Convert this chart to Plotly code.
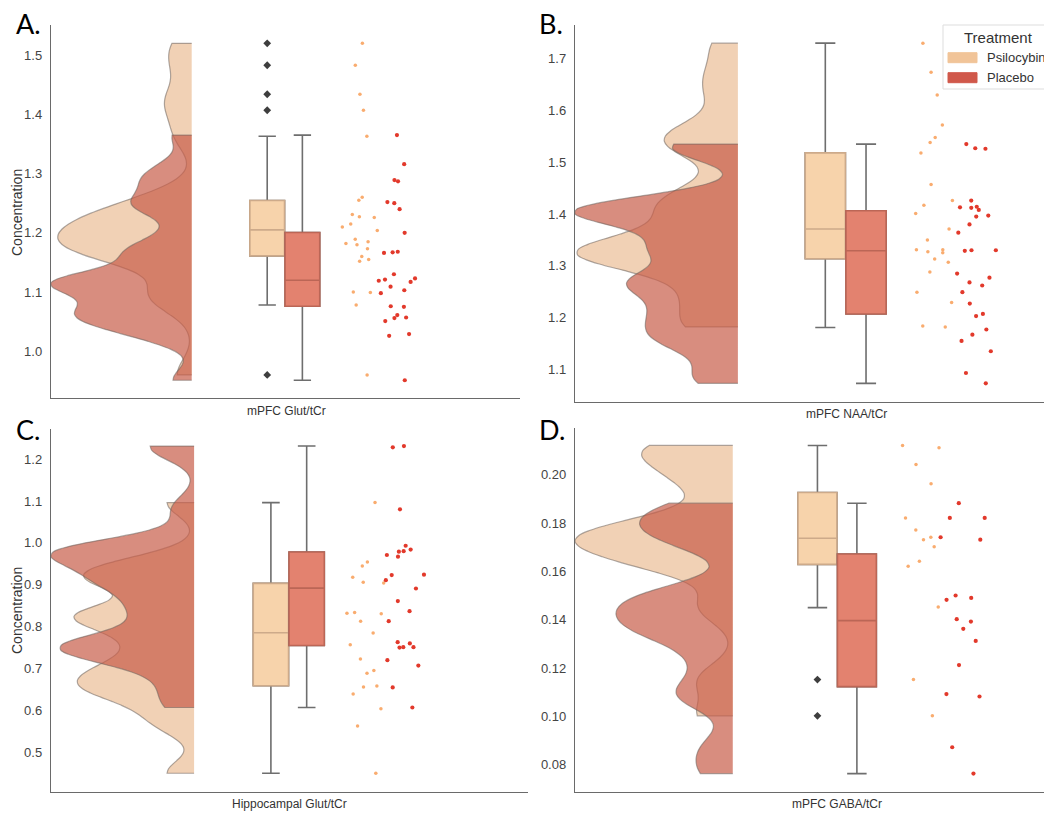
import numpy as np
import plotly.graph_objects as go

W, H = 1052, 813          # browser window
PAGE_MARGIN = 8           # default body margin of the html page
FW, FH = W - PAGE_MARGIN, H - PAGE_MARGIN

# ---------------- data ----------------
panels = ["A", "B", "C", "D"]
measures = ["mPFC Glut/tCr", "mPFC NAA/tCr", "Hippocampal Glut/tCr", "mPFC GABA/tCr"]
groups = ["Psilocybin", "Placebo"]

psil_A = [1.520, 1.483, 1.434, 1.407, 1.363, 1.260, 1.255, 1.231, 1.227, 1.226, 1.215, 1.210, 1.204,
          1.189, 1.185, 1.182, 1.180, 1.173, 1.160, 1.155, 1.152, 1.100, 1.099, 1.078, 0.960]
plac_A = [1.365, 1.316, 1.289, 1.287, 1.252, 1.250, 1.240, 1.200, 1.168, 1.167, 1.166, 1.130, 1.123,
          1.121, 1.119, 1.117, 1.109, 1.103, 1.098, 1.076, 1.075, 1.061, 1.057, 1.056, 1.051, 1.029,
          1.026, 0.951]

psil_B = [1.730, 1.674, 1.630, 1.572, 1.548, 1.538, 1.518, 1.457, 1.426, 1.417, 1.401, 1.371, 1.350,
          1.331, 1.331, 1.327, 1.325, 1.313, 1.307, 1.288, 1.249, 1.229, 1.184, 1.182]
plac_B = [1.535, 1.527, 1.526, 1.426, 1.414, 1.413, 1.412, 1.408, 1.397, 1.395, 1.380, 1.364, 1.330,
          1.330, 1.329, 1.285, 1.277, 1.268, 1.262, 1.249, 1.227, 1.207, 1.203, 1.177, 1.167, 1.155,
          1.135, 1.093, 1.073]

psil_C = [1.096, 0.954, 0.945, 0.918, 0.906, 0.904, 0.834, 0.832, 0.831, 0.813, 0.785, 0.757, 0.723,
          0.695, 0.689, 0.658, 0.656, 0.639, 0.604, 0.563, 0.450]
plac_C = [1.231, 1.228, 1.080, 0.993, 0.984, 0.980, 0.979, 0.971, 0.967, 0.924, 0.923, 0.911, 0.891,
          0.861, 0.837, 0.813, 0.763, 0.760, 0.751, 0.751, 0.750, 0.720, 0.707, 0.655, 0.607]

psil_D = [0.2122, 0.2113, 0.2043, 0.1963, 0.1822, 0.1772, 0.1742, 0.1732, 0.1703, 0.1643, 0.1622,
          0.1453, 0.1153, 0.1003]
plac_D = [0.1883, 0.1822, 0.1822, 0.1742, 0.1732, 0.1501, 0.1491, 0.1483, 0.1403, 0.1393, 0.1363,
          0.1313, 0.1213, 0.1093, 0.1083, 0.0873, 0.0764]

# box statistics: lower whisker, Q1, median, Q3, upper whisker
box_psil_A = [1.078, 1.161, 1.205, 1.2545, 1.363]
box_plac_A = [0.951, 1.076, 1.120, 1.2005, 1.365]
box_psil_B = [1.181, 1.3136, 1.371, 1.518, 1.730]
box_plac_B = [1.073, 1.2068, 1.329, 1.4063, 1.535]
box_psil_C = [0.450, 0.659, 0.7855, 0.9033, 1.096]
box_plac_C = [0.607, 0.755, 0.892, 0.978, 1.231]
box_psil_D = [0.1451, 0.163, 0.1738, 0.1927, 0.2122]
box_plac_D = [0.0764, 0.1124, 0.1397, 0.1673, 0.1883]

# relative maximum width of each half violin (psilocybin, placebo)
cloud_width_A = [0.95, 1.0]
cloud_width_B = [0.985, 1.0]
cloud_width_C = [0.84, 1.0]
cloud_width_D = [1.0, 0.74]

data = {"A": (psil_A, plac_A), "B": (psil_B, plac_B), "C": (psil_C, plac_C), "D": (psil_D, plac_D)}
boxes = {"A": (box_psil_A, box_plac_A), "B": (box_psil_B, box_plac_B),
         "C": (box_psil_C, box_plac_C), "D": (box_psil_D, box_plac_D)}
cloud_w = {"A": cloud_width_A, "B": cloud_width_B, "C": cloud_width_C, "D": cloud_width_D}

ticks = {"A": (1.0, 0.1, ".1f"), "B": (1.1, 0.1, ".1f"), "C": (0.5, 0.1, ".1f"), "D": (0.08, 0.02, ".2f")}

# ---------------- layout / style ----------------
# pixel boxes of each plot area in the window (left, right, top, bottom) and axis ranges
geom = {
    "A": dict(px=(51, 520), py=(25, 398), xr=(0, 10.0), yr=(0.921, 1.551)),
    "B": dict(px=(575, 1052), py=(25, 402), xr=(0, 8.785), yr=(1.037, 1.765)),
    "C": dict(px=(51, 528), py=(429.3, 791.7), xr=(0, 10.0), yr=(0.406, 1.271)),
    "D": dict(px=(575, 1052), py=(428.3, 791.7), xr=(0, 9.07), yr=(0.0689, 0.2193)),
}

VIOLIN_X = 3.0
BOX_X = [4.61, 5.36]
STRIP_X = [6.64, 7.40]
BOX_W = 0.74

VIOLIN_FILL = ["rgba(232,178,132,0.6)", "rgba(200,92,72,0.7)"]
VIOLIN_LINE = "rgba(110,100,95,0.55)"
BOX_FILL = ["#F7D3AB", "#E3826F"]
BOX_EDGE = ["#CDAA8A", "#BB6656"]
WHISKER = "#6E6E6E"
POINT_COL = ["#F9AC6F", "#E2392B"]
POINT_SIZE = [3.5, 4.2]
OUTLIER_COL = "#3E3E3E"
LEGEND_COL = ["#F1C498", "#D0584A"]
FONT = "Liberation Sans, Arial, sans-serif"


def fx(x):
    return (x - PAGE_MARGIN) / FW


def fy(y):
    return 1 - (y - PAGE_MARGIN) / FH


fig = go.Figure()
layout = dict(width=FW, height=FH, margin=dict(l=0, r=0, t=0, b=0), paper_bgcolor="white",
              plot_bgcolor="white", showlegend=False, font=dict(family=FONT, color="#333"))
annotations = []
shapes = []

for i, p in enumerate(panels):
    g = geom[p]
    sfx = "" if i == 0 else str(i + 1)
    xa, ya = "x" + sfx, "y" + sfx
    layout["xaxis" + sfx] = dict(domain=[fx(g["px"][0]), min(1.0, fx(g["px"][1]))], range=list(g["xr"]),
                                 showline=True, linecolor="#6a6a6a", linewidth=1.4, showgrid=False,
                                 zeroline=False, showticklabels=False, ticks="", anchor=ya,
                                 fixedrange=True)
    t0, dt, fmt = ticks[p]
    layout["yaxis" + sfx] = dict(domain=[fy(g["py"][1]), fy(g["py"][0])], range=list(g["yr"]),
                                 showline=True, linecolor="#6a6a6a", linewidth=1.4, showgrid=False,
                                 zeroline=False, tick0=t0, dtick=dt, tickformat=fmt,
                                 ticks="outside", ticklen=5, tickcolor="rgba(0,0,0,0)",
                                 tickfont=dict(size=13, color="#444", family=FONT), anchor=xa,
                                 fixedrange=True)

    for k in range(2):
        vals = np.array(data[p][k])
        bw = 0.2 * np.std(vals, ddof=1)
        # half violin (cloud)
        fig.add_trace(go.Violin(y=vals, x0=VIOLIN_X, side="negative",
                                width=2 * VIOLIN_X * cloud_w[p][k],
                                spanmode="hard", bandwidth=bw, scalegroup=p + str(k),
                                scalemode="width",
                                points=False, fillcolor=VIOLIN_FILL[k],
                                line=dict(color=VIOLIN_LINE, width=1.2),
                                box_visible=False, meanline_visible=False, hoverinfo="skip",
                                name=groups[k], xaxis=xa, yaxis=ya))

    for k in range(2):
        lf, q1, med, q3, uf = boxes[p][k]
        # whiskers + caps
        fig.add_trace(go.Box(x=[BOX_X[k]], lowerfence=[lf], q1=[q1], median=[med], q3=[q3],
                             upperfence=[uf], width=BOX_W, whiskerwidth=0.5,
                             fillcolor=BOX_FILL[k], line=dict(color=WHISKER, width=1.6),
                             boxpoints=False, hoverinfo="skip", name=groups[k],
                             xaxis=xa, yaxis=ya))
        # box body with tinted outline and median
        fig.add_trace(go.Box(x=[BOX_X[k]], lowerfence=[q1], q1=[q1], median=[med], q3=[q3],
                             upperfence=[q3], width=BOX_W, whiskerwidth=0,
                             fillcolor=BOX_FILL[k], line=dict(color=BOX_EDGE[k], width=1.6),
                             boxpoints=False, hoverinfo="skip", name=groups[k],
                             xaxis=xa, yaxis=ya))
        # outliers (values beyond whiskers)
        vals = data[p][k]
        outl = [v for v in vals if v < lf - 1e-9 or v > uf + 1e-9]
        if outl:
            fig.add_trace(go.Scatter(x=[BOX_X[k]] * len(outl), y=outl, mode="markers",
                                     marker=dict(symbol="diamond", size=6, color=OUTLIER_COL),
                                     hoverinfo="skip", xaxis=xa, yaxis=ya))

    for k in range(2):
        # rain (jittered strip)
        fig.add_trace(go.Box(y=data[p][k], x0=STRIP_X[k], width=1.0, boxpoints="all", jitter=1,
                             pointpos=0, fillcolor="rgba(0,0,0,0)",
                             line=dict(width=0, color="rgba(0,0,0,0)"), whiskerwidth=0,
                             marker=dict(color=POINT_COL[k], size=POINT_SIZE[k], line=dict(width=0)),
                             hoverinfo="y", name=groups[k], xaxis=xa, yaxis=ya))

# panel letters
for p, (x, y) in zip(panels, [(14, 23), (537, 23), (14, 429), (537, 429)]):
    annotations.append(dict(text=p + ".", x=fx(x), y=fy(y), xref="paper", yref="paper",
                            xanchor="left", yanchor="middle", showarrow=False,
                            font=dict(size=27, color="black", family="Lato, Liberation Sans, sans-serif")))

# x-axis titles
for m, (x, y) in zip(measures, [(286, 411), (846, 414), (289, 804), (837, 804)]):
    annotations.append(dict(text=m, x=fx(x), y=fy(y), xref="paper", yref="paper",
                            xanchor="center", yanchor="middle", showarrow=False,
                            font=dict(size=12, color="#333")))

# y-axis titles
for y in (213, 611):
    annotations.append(dict(text="Concentration", x=fx(17), y=fy(y), xref="paper", yref="paper",
                            xanchor="center", yanchor="middle", textangle=-90, showarrow=False,
                            font=dict(size=14, color="#333")))

# legend (drawn in panel B)
shapes.append(dict(type="rect", xref="paper", yref="paper", x0=fx(943), x1=fx(1070),
                   y0=fy(89), y1=fy(25), line=dict(color="#DDDDDD", width=1),
                   fillcolor="rgba(255,255,255,0.85)", layer="above"))
annotations.append(dict(text="Treatment", x=fx(998), y=fy(37), xref="paper", yref="paper",
                        xanchor="center", yanchor="middle", showarrow=False,
                        font=dict(size=15, color="#333")))
for k, yc in enumerate([57.7, 77.7]):
    shapes.append(dict(type="rect", xref="paper", yref="paper", x0=fx(948), x1=fx(977),
                       y0=fy(yc + 5), y1=fy(yc - 5), line=dict(color=LEGEND_COL[k], width=1),
                       fillcolor=LEGEND_COL[k], layer="above"))
    annotations.append(dict(text=groups[k], x=fx(985), y=fy(yc), xref="paper", yref="paper",
                            xanchor="left", yanchor="middle", showarrow=False,
                            font=dict(size=13, color="#333")))

layout["annotations"] = annotations
layout["shapes"] = shapes
fig.update_layout(**layout)
fig.write_html("out.html")
